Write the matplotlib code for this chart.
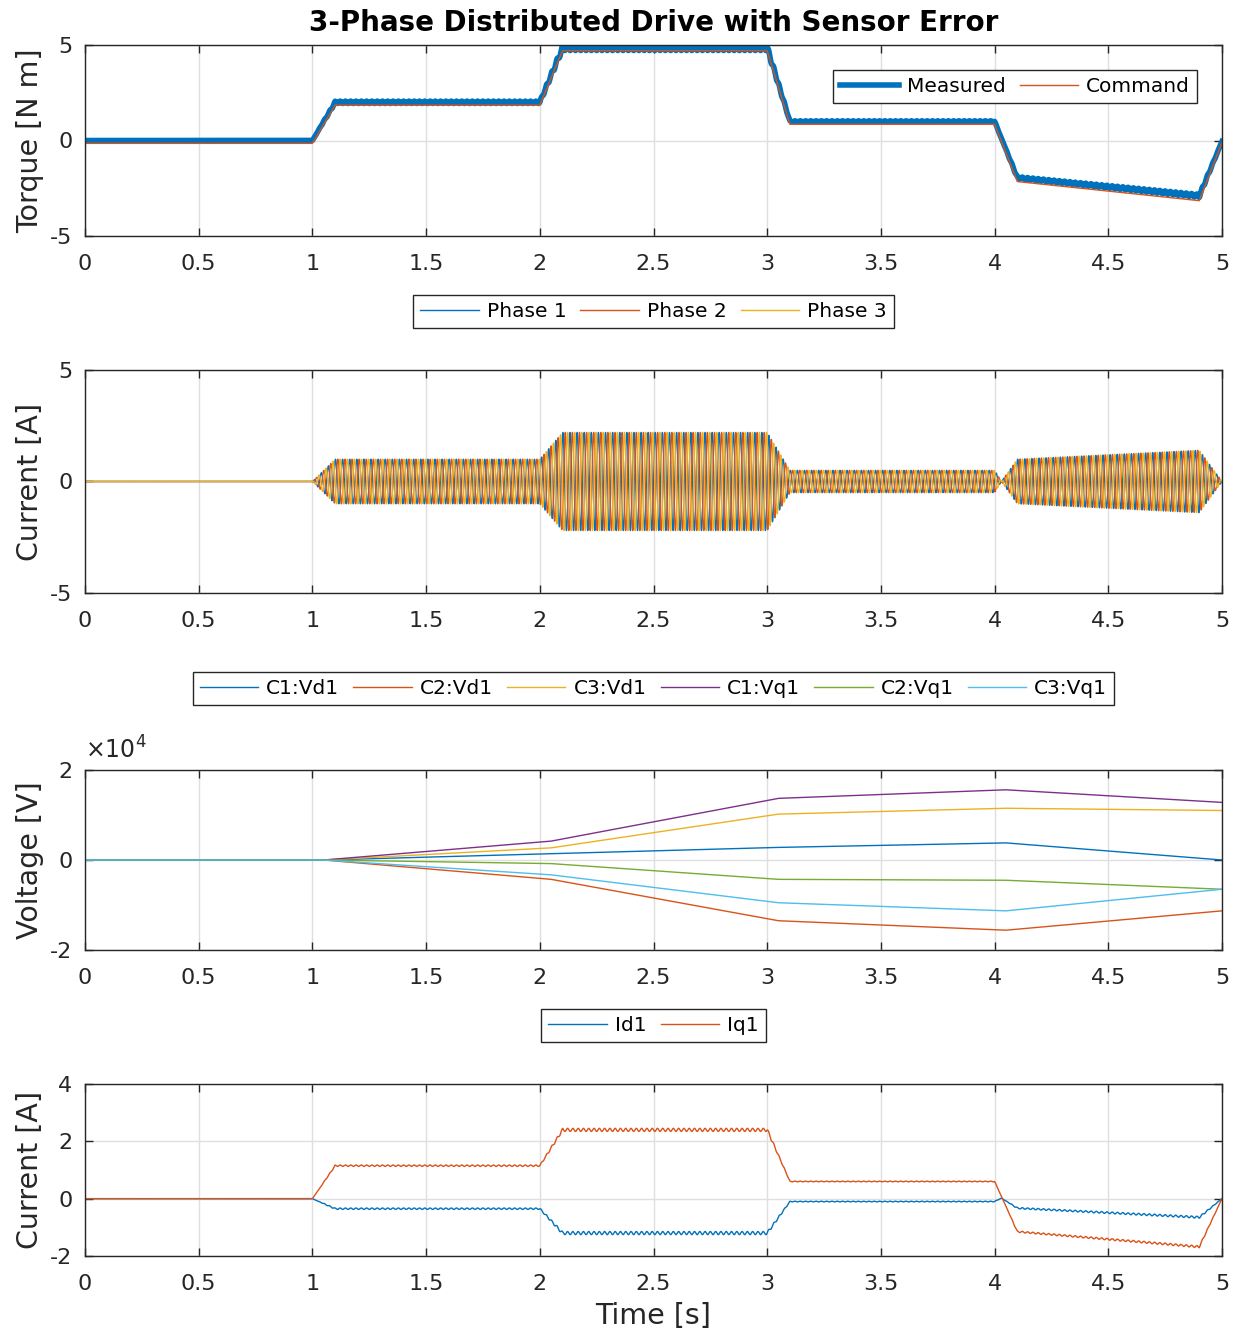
import numpy as np
import matplotlib
matplotlib.use('Agg')
import matplotlib.pyplot as plt

# torque breakpoints [s], [N m]
t_torque = [0, 1.0, 1.1, 2.0, 2.1, 3.0, 3.1, 4.0, 4.1, 4.9, 5.0]
torque_cmd = [-0.15, -0.15, 1.85, 1.85, 4.7, 4.7, 0.85, 0.85, -2.15, -3.15, -0.1]
torque_meas = [0.0, 0.0, 2.0, 2.0, 4.85, 4.85, 1.0, 1.0, -1.95, -2.9, -0.05]

# phase current amplitude envelope [A]
t_env = [0, 1.0, 1.1, 2.0, 2.1, 3.0, 3.1, 4.0, 4.03, 4.1, 4.9, 5.0]
amp_env = [0, 0, 1.0, 1.0, 2.2, 2.2, 0.5, 0.5, 0.0, 1.0, 1.4, 0.0]
elec_freq = 32.0  # Hz, as seen in the picture
phase_names = ['Phase 1', 'Phase 2', 'Phase 3']
phase_shift_deg = [0, -120, 120]

# controller voltages [V]
t_volt = [0, 1.05, 2.05, 3.05, 4.05, 5.0]
volt_names = ['C1:Vd1', 'C2:Vd1', 'C3:Vd1', 'C1:Vq1', 'C2:Vq1', 'C3:Vq1']
c1_vd1 = [0, 0, 1400, 2800, 3800, 0]
c2_vd1 = [0, 0, -4300, -13500, -15600, -11300]
c3_vd1 = [0, 0, 2700, 10200, 11500, 11000]
c1_vq1 = [0, 0, 4200, 13700, 15600, 12800]
c2_vq1 = [0, 0, -800, -4300, -4500, -6500]
c3_vq1 = [0, 0, -3300, -9500, -11300, -6500]

# dq currents [A]
t_dq = [0, 1.0, 1.1, 2.0, 2.1, 3.0, 3.1, 4.0, 4.03, 4.1, 4.9, 5.0]
id1 = [0, 0, -0.35, -0.35, -1.2, -1.2, -0.1, -0.1, 0.02, -0.33, -0.65, 0]
iq1 = [0, 0, 1.15, 1.15, 2.4, 2.4, 0.6, 0.6, 0.08, -1.15, -1.68, 0]
ripple_freq = 43.0
ripple_frac = 0.025

COLORS = ['#0072BD', '#D95319', '#EDB120', '#7E2F8E', '#77AC30', '#4DBEEE']
AX_COLOR = '#262626'

plt.rcParams['font.family'] = 'DejaVu Sans'
plt.rcParams['axes.unicode_minus'] = False

W, H = 1239, 1334
fig = plt.figure(figsize=(W / 100, H / 100), dpi=100)


def make_axes(top_px, bottom_px):
    left, right = 85, 1222
    ax = fig.add_axes([left / W, 1 - bottom_px / H, (right - left) / W,
                       (bottom_px - top_px) / H])
    ax.set_xlim(0, 5)
    ax.set_xticks(np.arange(0, 5.01, 0.5))
    ax.set_xticklabels(['0', '0.5', '1', '1.5', '2', '2.5', '3', '3.5', '4', '4.5', '5'])
    ax.grid(True, color='#dfdfdf', linewidth=1)
    ax.set_axisbelow(True)
    ax.tick_params(direction='in', top=True, right=True, labelsize=16,
                   colors=AX_COLOR, length=6, width=1)
    ax.tick_params(axis='x', pad=13)
    ax.tick_params(axis='y', pad=9)
    for sp in ax.spines.values():
        sp.set_color(AX_COLOR)
        sp.set_linewidth(1)
    return ax


def ylabel(ax, text):
    ax.set_ylabel(text, fontsize=20.5, color=AX_COLOR)
    ax.yaxis.set_label_coords(-0.036, 0.5)


def legend(ax, **kw):
    leg = ax.legend(fontsize=14.5, fancybox=False, edgecolor=AX_COLOR,
                    framealpha=1, handlelength=2.9, borderpad=0.35,
                    handletextpad=0.4, columnspacing=0.7, borderaxespad=0, **kw)
    leg.get_frame().set_linewidth(1)
    return leg


t = np.linspace(0, 5, 40001)
env = np.interp(t, t_env, amp_env)
ripple = ripple_frac * env * np.sin(2 * np.pi * ripple_freq * t)

# torque
ax1 = make_axes(45, 236)
meas = np.interp(t, t_torque, torque_meas) + 2.5 * ripple
ax1.plot(t, meas, color=COLORS[0], linewidth=4, label='Measured')
ax1.plot(t_torque, torque_cmd, color=COLORS[1], linewidth=1, label='Command')
ax1.set_ylim(-5, 5)
ax1.set_yticks([-5, 0, 5])
ylabel(ax1, 'Torque [N m]')
fig.text(653.5 / W, 1 - 23 / H, '3-Phase Distributed Drive with Sensor Error',
         fontsize=20, fontweight='bold', color='black', ha='center', va='center')
legend(ax1, loc='upper right', ncol=2,
       bbox_to_anchor=(1 - 25 / 1137, 1 - 25 / 191))

# phase currents
ax2 = make_axes(370, 593)
for name, shift, col in zip(phase_names, phase_shift_deg, COLORS):
    ax2.plot(t, env * np.sin(2 * np.pi * elec_freq * t + np.deg2rad(shift)),
             color=col, linewidth=1, label=name)
ax2.set_ylim(-5, 5)
ax2.set_yticks([-5, 0, 5])
ylabel(ax2, 'Current [A]')
legend(ax2, loc='lower center', ncol=3, bbox_to_anchor=(0.5, 1 + 42 / 223))

# voltages
ax3 = make_axes(770, 950)
for name, vals, col in zip(volt_names,
                           [c1_vd1, c2_vd1, c3_vd1, c1_vq1, c2_vq1, c3_vq1],
                           COLORS):
    ax3.plot(t_volt, vals, color=col, linewidth=1, label=name)
ax3.set_ylim(-2e4, 2e4)
ax3.set_yticks([-2e4, 0, 2e4])
ax3.set_yticklabels(['-2', '0', '2'])
ax3.text(0.0, 1.035, r'$\times\mathdefault{10^{4}}$', transform=ax3.transAxes,
         fontsize=17, color=AX_COLOR, ha='left', va='bottom')
ylabel(ax3, 'Voltage [V]')
legend(ax3, loc='lower center', ncol=6, bbox_to_anchor=(0.5, 1 + 65 / 180))

# dq currents
ax4 = make_axes(1084, 1256)
ax4.plot(t, np.interp(t, t_dq, id1) + ripple, color=COLORS[0], linewidth=1,
         label='Id1')
ax4.plot(t, np.interp(t, t_dq, iq1) + ripple, color=COLORS[1], linewidth=1,
         label='Iq1')
ax4.set_ylim(-2, 4)
ax4.set_yticks([-2, 0, 2, 4])
ylabel(ax4, 'Current [A]')
ax4.set_xlabel('Time [s]', fontsize=20.5, color=AX_COLOR, labelpad=6)
legend(ax4, loc='lower center', ncol=2, bbox_to_anchor=(0.5, 1 + 42 / 172))

fig.savefig('out.png', dpi=100)
